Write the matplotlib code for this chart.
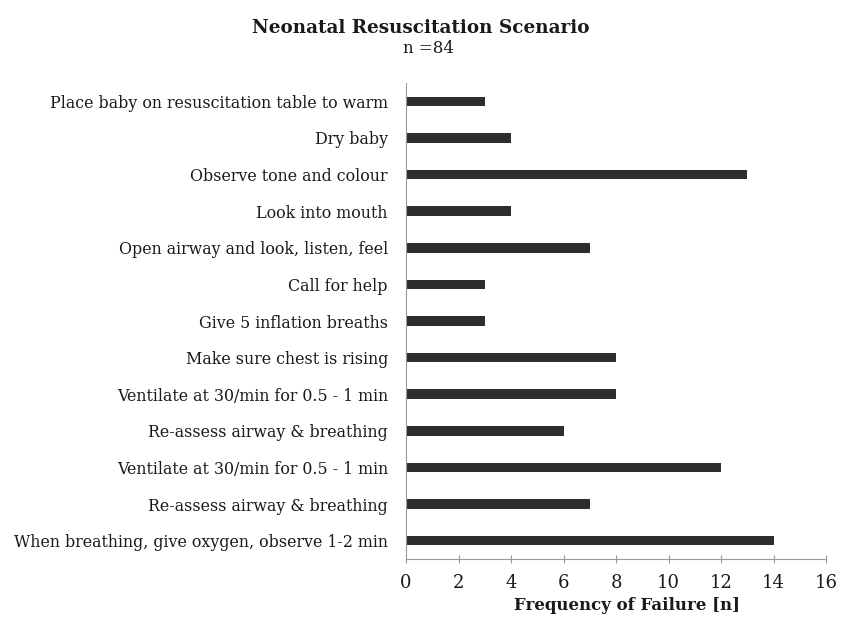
import matplotlib
matplotlib.use("Agg")
import matplotlib.pyplot as plt

categories = [
    "Place baby on resuscitation table to warm",
    "Dry baby",
    "Observe tone and colour",
    "Look into mouth",
    "Open airway and look, listen, feel",
    "Call for help",
    "Give 5 inflation breaths",
    "Make sure chest is rising",
    "Ventilate at 30/min for 0.5 - 1 min",
    "Re-assess airway & breathing",
    "Ventilate at 30/min for 0.5 - 1 min",
    "Re-assess airway & breathing",
    "When breathing, give oxygen, observe 1-2 min",
]
values = [3, 4, 13, 4, 7, 3, 3, 8, 8, 6, 12, 7, 14]
xticks = [0, 2, 4, 6, 8, 10, 12, 14, 16]

plt.rcParams['font.family'] = ['DejaVu Serif']

fig = plt.figure(figsize=(8.41, 6.21), dpi=100)
ax = fig.add_axes([0.4828, 0.0998, 0.4994, 0.7665])
pos = list(range(len(categories)))
ax.barh(pos, values, height=0.26, color='#2e2e2e')
ax.set_yticks(pos)
ax.set_yticklabels(categories, fontsize=11.4, color='#1a1a1a')
ax.set_ylim(len(categories) - 0.5, -0.5)
ax.set_xlim(0, 16)
ax.set_xticks(xticks)
ax.set_xticklabels([str(t) for t in xticks], fontsize=13, color='#1a1a1a')
ax.tick_params(axis='y', length=0, pad=13)
ax.tick_params(axis='x', direction='inout', length=6, color='#999999', pad=8)
for s in ['top', 'right']:
    ax.spines[s].set_visible(False)
ax.spines['left'].set_color('#999999')
ax.spines['bottom'].set_color('#999999')
ax.set_xlabel("Frequency of Failure [n]", fontsize=12, fontweight='bold', color='#1a1a1a')
ax.xaxis.set_label_coords(0.526, -0.08)
fig.text(0.5, 0.955, "Neonatal Resuscitation Scenario", ha='center', va='center',
         fontsize=13.2, fontweight='bold', color='#1a1a1a')
fig.text(0.510, 0.922, "n =84", ha='center', va='center', fontsize=12, color='#1a1a1a')
fig.savefig("out.png", dpi=100)
